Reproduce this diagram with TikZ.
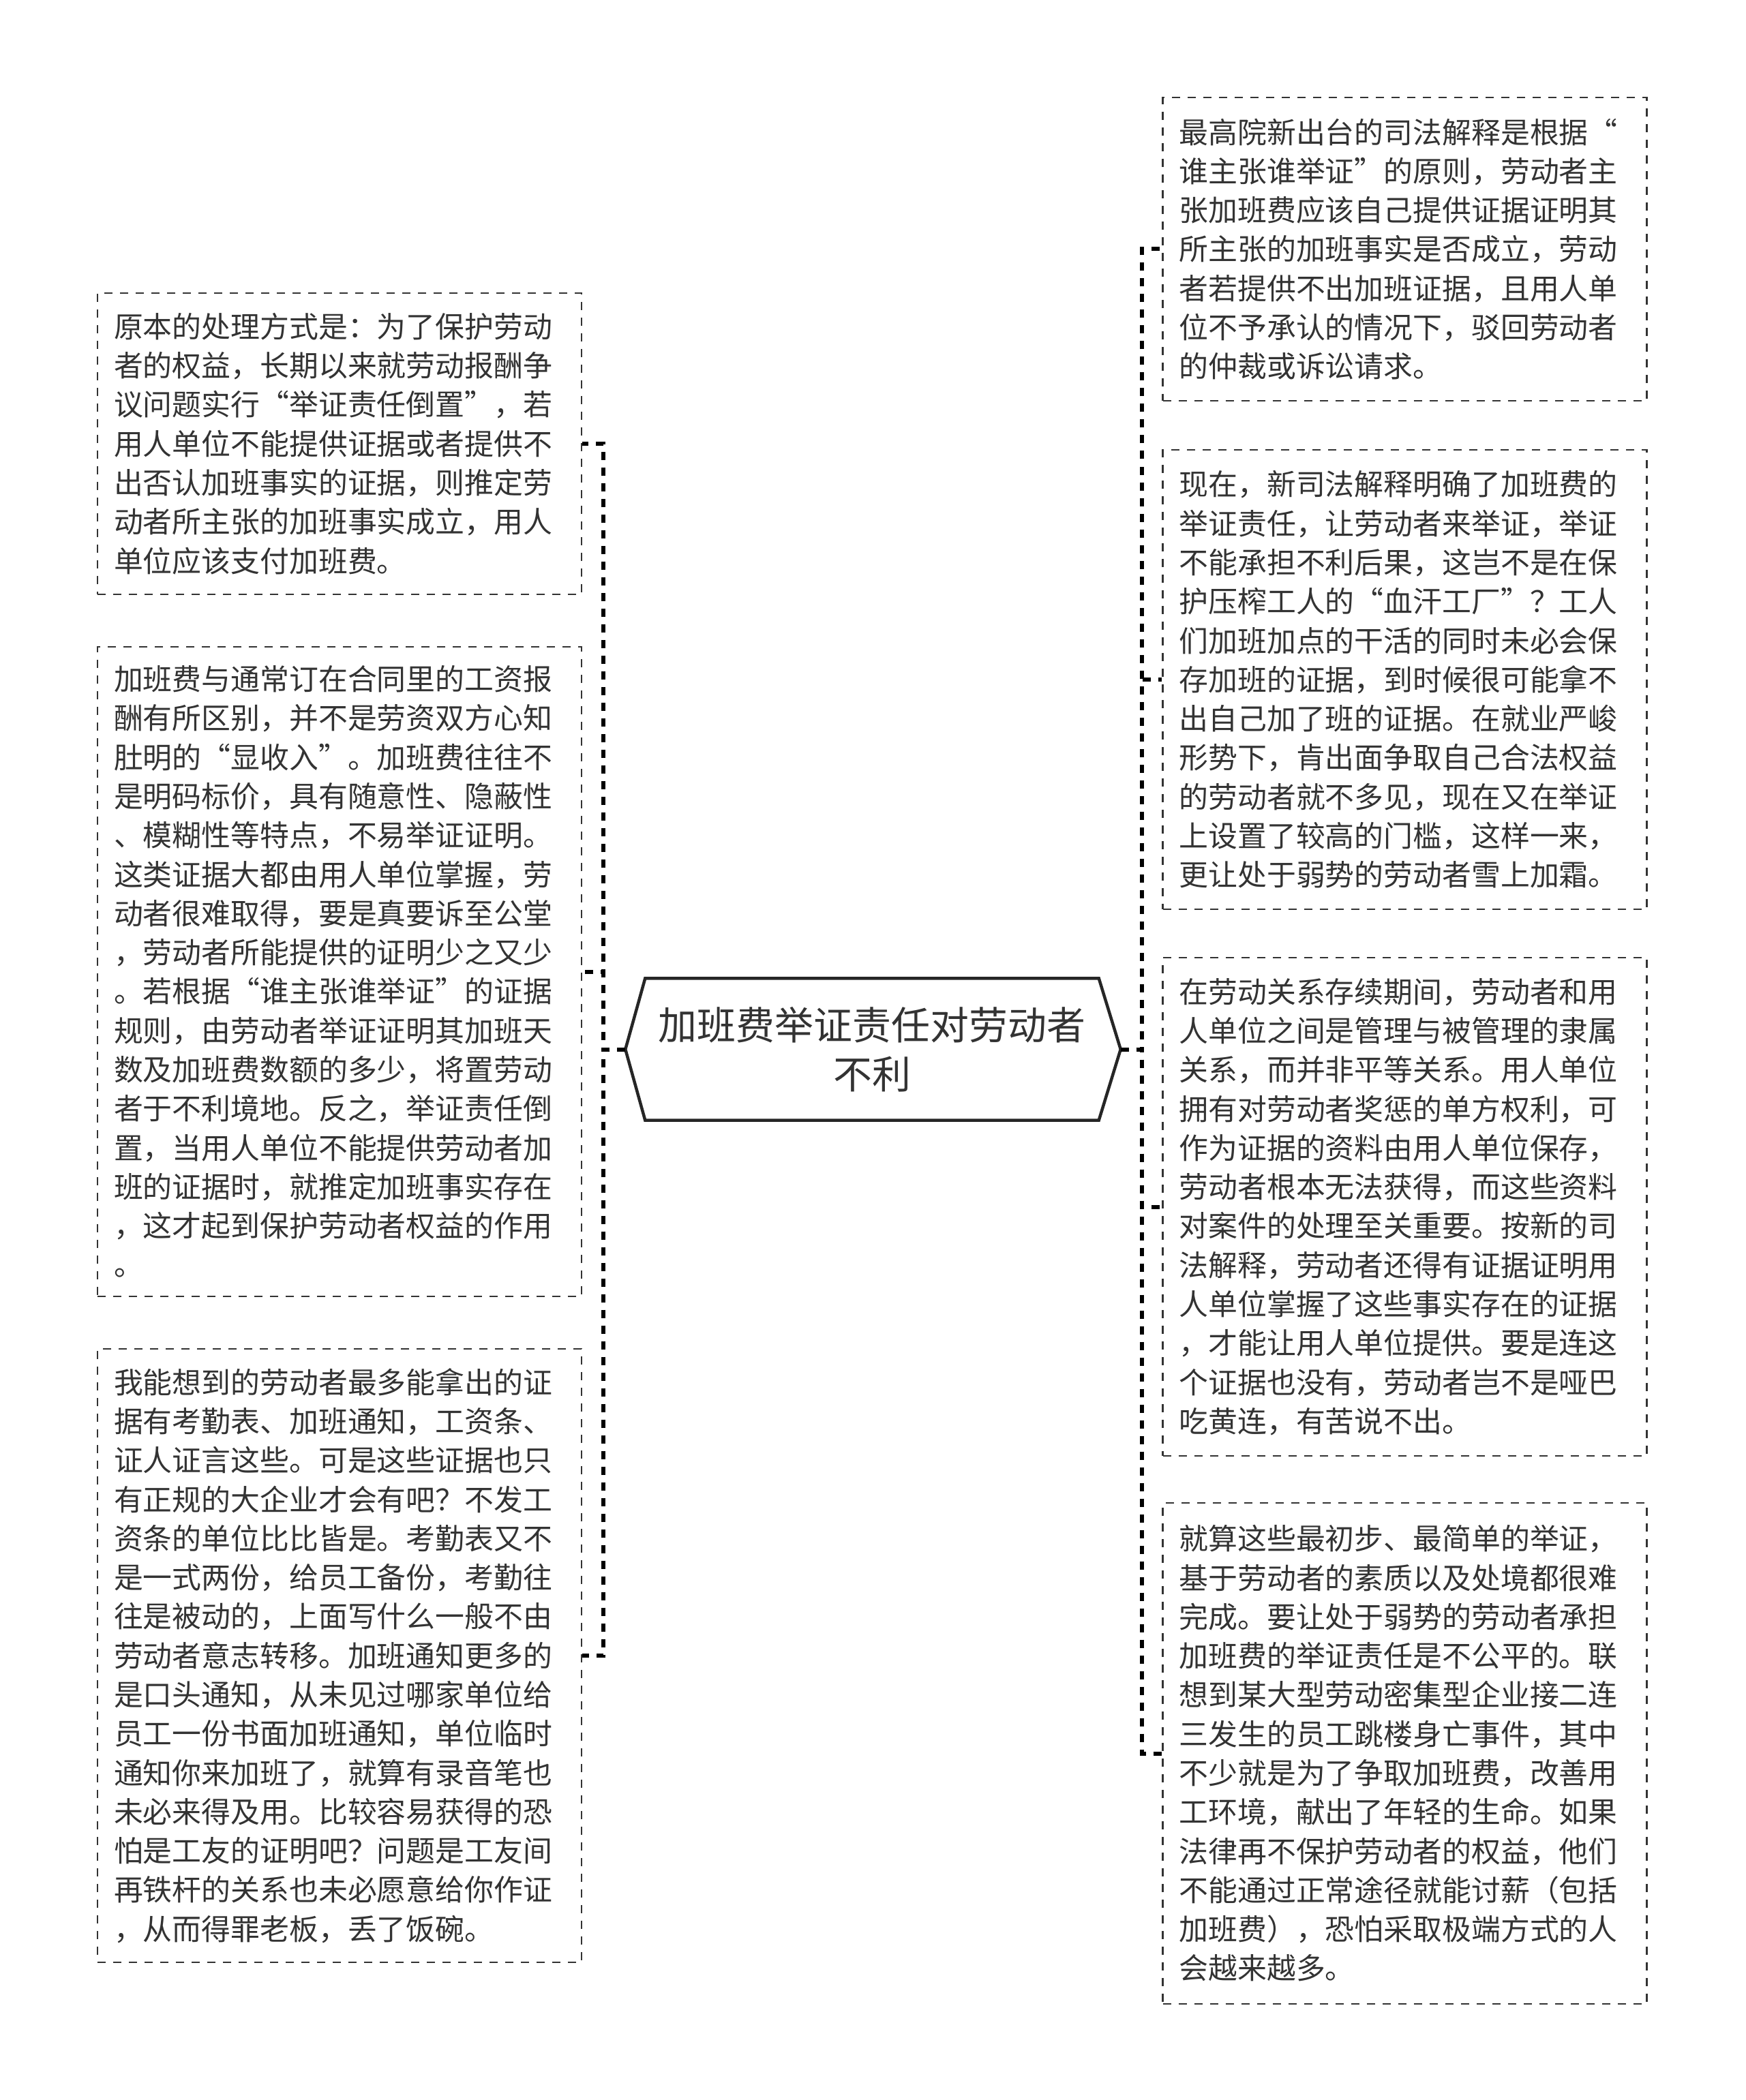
\documentclass[tikz,border=0pt]{standalone}
\usepackage{fontspec}
\setmainfont{Noto Sans CJK SC}
\usetikzlibrary{positioning,calc}
\definecolor{inkgray}{HTML}{333333}
\tikzset{
  leaf/.style={draw=inkgray,line width=0.28mm,dash pattern=on 1.2mm off 1.1mm,
    text=inkgray,text width=6.62cm,inner xsep=2.4mm,inner ysep=0pt,align=left,
    font=\fontsize{12.2}{16.3}\selectfont},
  rootbox/.style={minimum width=6.64cm,minimum height=2.07cm,inner sep=0pt,
    align=center,text=inkgray,font=\fontsize{16.2}{20.6}\selectfont},
  rootline/.style={draw=black!85,line width=0.45mm,line join=miter},
  link/.style={draw=black,line width=0.6mm,dash pattern=on 1.2mm off 1.1mm},
}
\begin{document}
\begin{tikzpicture}
  \useasboundingbox (0,0) rectangle (25.6,-30.81);

  % central topic
  \node[rootbox] (root) at (12.79,-15.395) {加班费举证责任对劳动者\\不利};
  \coordinate (rootL) at ($(root.west)+(-0.29,0)$);
  \coordinate (rootR) at ($(root.east)+(0.32,0)$);
  \draw[rootline] (root.north west) -- (root.north east) -- (rootR)
    -- (root.south east) -- (root.south west) -- (rootL) -- cycle;

  % left side
  \node[leaf,minimum height=4.42cm] (lb1) at (4.98,-6.51) {%
    原本的处理方式是：为了保护劳动\\
    者的权益，长期以来就劳动报酬争\\
    议问题实行“举证责任倒置”，若\\
    用人单位不能提供证据或者提供不\\
    出否认加班事实的证据，则推定劳\\
    动者所主张的加班事实成立，用人\\
    单位应该支付加班费。};
  \node[leaf,minimum height=9.53cm] (lb2) at (4.98,-14.255) {%
    加班费与通常订在合同里的工资报\\
    酬有所区别，并不是劳资双方心知\\
    肚明的“显收入”。加班费往往不\\
    是明码标价，具有随意性、隐蔽性\\
    、模糊性等特点，不易举证证明。\\
    这类证据大都由用人单位掌握，劳\\
    动者很难取得，要是真要诉至公堂\\
    ，劳动者所能提供的证明少之又少\\
    。若根据“谁主张谁举证”的证据\\
    规则，由劳动者举证证明其加班天\\
    数及加班费数额的多少，将置劳动\\
    者于不利境地。反之，举证责任倒\\
    置，当用人单位不能提供劳动者加\\
    班的证据时，就推定加班事实存在\\
    ，这才起到保护劳动者权益的作用\\
    。};
  \node[leaf,minimum height=9.00cm] (lb3) at (4.98,-24.29) {%
    我能想到的劳动者最多能拿出的证\\
    据有考勤表、加班通知，工资条、\\
    证人证言这些。可是这些证据也只\\
    有正规的大企业才会有吧？不发工\\
    资条的单位比比皆是。考勤表又不\\
    是一式两份，给员工备份，考勤往\\
    往是被动的，上面写什么一般不由\\
    劳动者意志转移。加班通知更多的\\
    是口头通知，从未见过哪家单位给\\
    员工一份书面加班通知，单位临时\\
    通知你来加班了，就算有录音笔也\\
    未必来得及用。比较容易获得的恐\\
    怕是工友的证明吧？问题是工友间\\
    再铁杆的关系也未必愿意给你作证\\
    ，从而得罪老板，丢了饭碗。};

  % right side
  \node[leaf,minimum height=4.45cm] (rb1) at (20.605,-3.655) {%
    最高院新出台的司法解释是根据“\\
    谁主张谁举证”的原则，劳动者主\\
    张加班费应该自己提供证据证明其\\
    所主张的加班事实是否成立，劳动\\
    者若提供不出加班证据，且用人单\\
    位不予承认的情况下，驳回劳动者\\
    的仲裁或诉讼请求。};
  \node[leaf,minimum height=6.74cm] (rb2) at (20.605,-9.97) {%
    现在，新司法解释明确了加班费的\\
    举证责任，让劳动者来举证，举证\\
    不能承担不利后果，这岂不是在保\\
    护压榨工人的“血汗工厂”？工人\\
    们加班加点的干活的同时未必会保\\
    存加班的证据，到时候很可能拿不\\
    出自己加了班的证据。在就业严峻\\
    形势下，肯出面争取自己合法权益\\
    的劳动者就不多见，现在又在举证\\
    上设置了较高的门槛，这样一来，\\
    更让处于弱势的劳动者雪上加霜。};
  \node[leaf,minimum height=7.31cm] (rb3) at (20.605,-17.705) {%
    在劳动关系存续期间，劳动者和用\\
    人单位之间是管理与被管理的隶属\\
    关系，而并非平等关系。用人单位\\
    拥有对劳动者奖惩的单方权利，可\\
    作为证据的资料由用人单位保存，\\
    劳动者根本无法获得，而这些资料\\
    对案件的处理至关重要。按新的司\\
    法解释，劳动者还得有证据证明用\\
    人单位掌握了这些事实存在的证据\\
    ，才能让用人单位提供。要是连这\\
    个证据也没有，劳动者岂不是哑巴\\
    吃黄连，有苦说不出。};
  \node[leaf,minimum height=7.35cm] (rb4) at (20.605,-25.725) {%
    就算这些最初步、最简单的举证，\\
    基于劳动者的素质以及处境都很难\\
    完成。要让处于弱势的劳动者承担\\
    加班费的举证责任是不公平的。联\\
    想到某大型劳动密集型企业接二连\\
    三发生的员工跳楼身亡事件，其中\\
    不少就是为了争取加班费，改善用\\
    工环境，献出了年轻的生命。如果\\
    法律再不保护劳动者的权益，他们\\
    不能通过正常途径就能讨薪（包括\\
    加班费），恐怕采取极端方式的人\\
    会越来越多。};

  % connectors
  \foreach \n in {lb1,lb2,lb3}
    \draw[link] (rootL) -- ++(-0.32,0) |- (\n.east);
  \foreach \n in {rb1,rb2,rb3,rb4}
    \draw[link] (rootR) -- ++(0.31,0) |- (\n.west);
\end{tikzpicture}
\end{document}
